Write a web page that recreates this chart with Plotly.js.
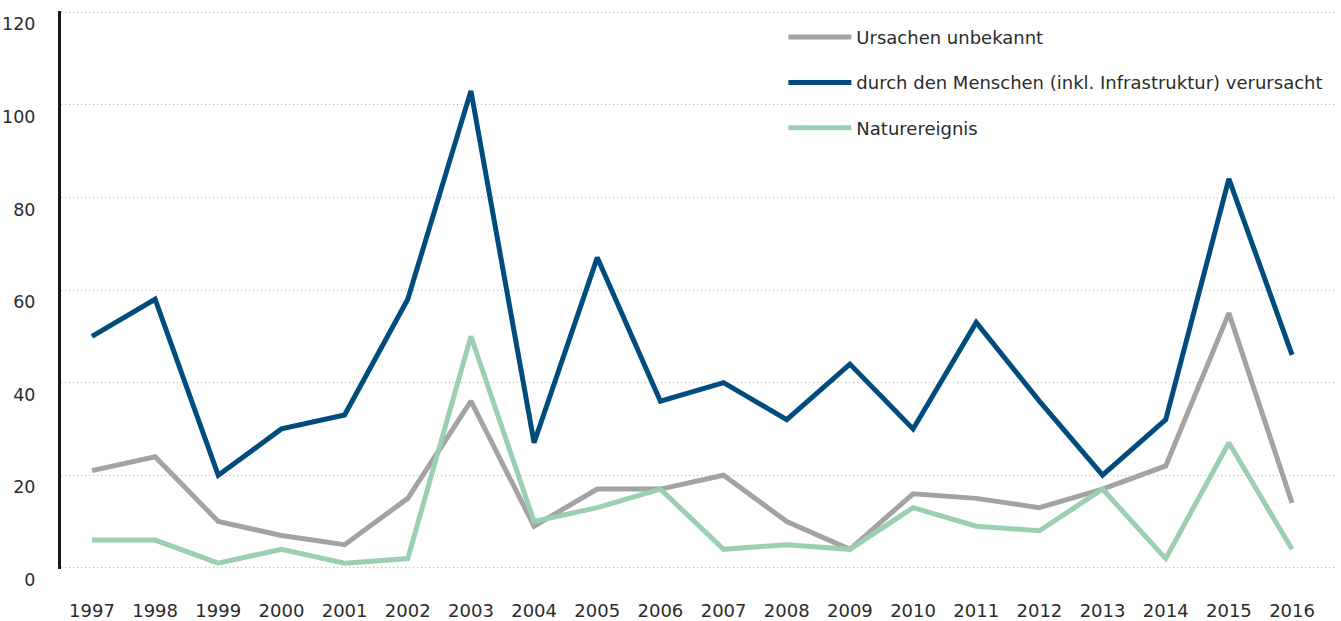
<!DOCTYPE html>
<html>
<head>
<meta charset="utf-8">
<script src="https://cdn.plot.ly/plotly-3.0.1.min.js"></script>
<style>html,body{margin:0;padding:0;background:#fff;}#chart{width:1341px;height:621px;}</style>
</head>
<body>
<div id="chart"></div>
<script>
const years = [1997,1998,1999,2000,2001,2002,2003,2004,2005,2006,2007,2008,2009,2010,2011,2012,2013,2014,2015,2016];
const unbekannt = [21,24,10,7,5,15,36,9,17,17,20,10,4,16,15,13,17,22,55,14];
const mensch = [50,58,20,30,33,58,103,27,67,36,40,32,44,30,53,36,20,32,84,46];
const natur = [6,6,1,4,1,2,50,10,13,17,4,5,4,13,9,8,17,2,27,4];
const names = ["Ursachen unbekannt","durch den Menschen (inkl. Infrastruktur) verursacht","Naturereignis"];
const yTicks = [0,20,40,60,80,100,120];

const font = {family: "'DejaVu Sans', sans-serif", size: 18, color: "#2b2b2b"};
const yfont = {family: "'DejaVu Sans', sans-serif", size: 17.5, color: "#2b2b2b"};

const traces = [
  {x: years, y: unbekannt, name: names[0], type: "scatter", mode: "lines",
   line: {color: "#a3a3a3", width: 5}, legendrank: 1, legendgroup: "a"},
  {x: years, y: natur, name: names[2], type: "scatter", mode: "lines",
   line: {color: "#9bcfb1", width: 5}, legendrank: 3, legendgroup: "c"},
  {x: years, y: mensch, name: names[1], type: "scatter", mode: "lines",
   line: {color: "#004c7d", width: 5}, legendrank: 2, legendgroup: "b"}
];

const layout = {
  width: 1341, height: 621,
  margin: {l: 61, r: 6, t: 11, b: 52},
  paper_bgcolor: "#fff", plot_bgcolor: "#fff",
  font: font,
  showlegend: true,
  legend: {x: 0.567, y: 0.986, xanchor: "left", yanchor: "top",
           bgcolor: "rgba(0,0,0,0)", traceorder: "grouped", tracegroupgap: 19,
           font: font, itemwidth: 63},
  xaxis: {range: [1996.51, 2016.68], tickmode: "array", tickvals: years,
          ticktext: years.map(String), showgrid: false, zeroline: false,
          showline: false, ticks: "", ticklabelstandoff: 29, tickfont: font, fixedrange: true},
  yaxis: {range: [-0.25, 120.25], tickmode: "array", tickvals: yTicks, ticktext: yTicks.map(String),
          showgrid: true, gridcolor: "#b0b0b0", griddash: "1px,3px", gridwidth: 1,
          zeroline: false, showline: true, linecolor: "#1a1a1a", linewidth: 3,
          ticks: "", ticklabelshift: 12, ticklabelstandoff: 19, tickfont: yfont, fixedrange: true}
};

Plotly.newPlot("chart", traces, layout, {displayModeBar: false, staticPlot: true});
</script>
</body>
</html>
